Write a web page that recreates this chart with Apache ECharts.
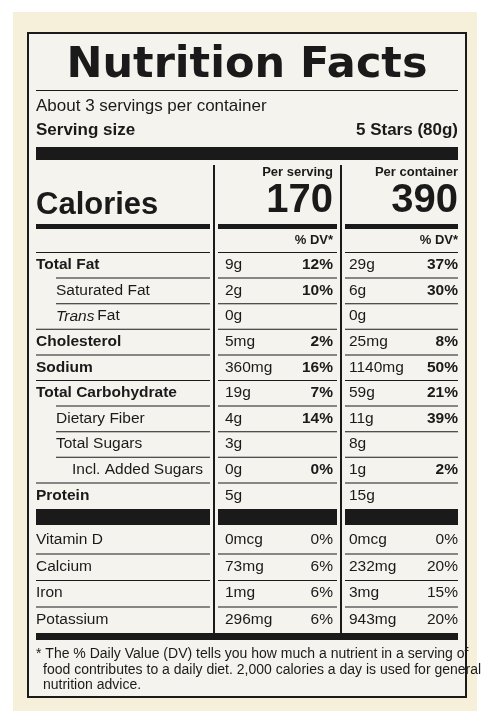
<!DOCTYPE html>
<html><head><meta charset="utf-8">
<script src="https://cdn.jsdelivr.net/npm/echarts@6/dist/echarts.min.js"></script>
<style>html,body{margin:0;padding:0;background:#ffffff}#c{width:490px;height:725px}</style>
</head><body><div id="c"></div>
<script>
const nutrients = ["Total Fat","Saturated Fat","Trans Fat","Cholesterol","Sodium","Total Carbohydrate","Dietary Fiber","Total Sugars","Incl. Added Sugars","Protein"];
const nutrientBold = [1,0,0,1,1,1,0,0,0,1];
const nutrientIndent = [0,1,1,0,0,0,1,1,2,0];
const servingAmt = ["9g","2g","0g","5mg","360mg","19g","4g","3g","0g","5g"];
const servingDV = ["12%","10%","","2%","16%","7%","14%","","0%",""];
const containerAmt = ["29g","6g","0g","25mg","1140mg","59g","11g","8g","1g","15g"];
const containerDV = ["37%","30%","","8%","50%","21%","39%","","2%",""];
const vitamins = ["Vitamin D","Calcium","Iron","Potassium"];
const vitServingAmt = ["0mcg","73mg","1mg","296mg"];
const vitServingDV = ["0%","6%","6%","6%"];
const vitContainerAmt = ["0mcg","232mg","3mg","943mg"];
const vitContainerDV = ["0%","20%","15%","20%"];
const caloriesServing = "170";
const caloriesContainer = "390";

const F = "'Liberation Sans', Arial, sans-serif";
const FN = "'Liberation Sans Narrow', 'Liberation Sans', sans-serif";
const g = [];
const txt = (x,y,s,size,weight,align,style,fam) => g.push({type:'text',x,y,style:{text:s,fontSize:size,fontWeight:weight||'normal',fontStyle:style||'normal',fontFamily:fam||F,fill:'#1a1a1a',textAlign:align||'left',textVerticalAlign:'middle'}});
const rect = (x,y,w,h,fill) => g.push({type:'rect',shape:{x,y,width:w,height:h},style:{fill:fill||'#1a1a1a'}});
const hl = (x1,x2,y,w) => rect(x1,y,x2-x1,w||1);

rect(13,12,464,699,'#f6f0da');
rect(27,32,440,666,'#1a1a1a');
rect(29,34,436,662,'#f4f3ee');
txt(247,66,"Nutrition Facts",43,'bold','center',null,"'DejaVu Sans', sans-serif");
hl(36,458,90,1);
txt(36,106,"About 3 servings per container",17);
txt(36,130,"Serving size",17,'bold');
txt(458,130,"5 Stars (80g)",17,'bold','right');
rect(36,147,422,13);
const c1=[36,210],c2=[218,337],c3=[345,458];
rect(213,165,2,470); rect(340,165,2,470);
txt(333,172,"Per serving",13,'bold','right');
txt(458,172,"Per container",13,'bold','right');
txt(333,201,caloriesServing,40,'bold','right');
txt(458,201,caloriesContainer,40,'bold','right');
txt(36,205,"Calories",31,'bold');
[c1,c2,c3].forEach(c=>hl(c[0],c[1],224,5));
txt(333,240,"% DV*",13,'bold','right');
txt(458,240,"% DV*",13,'bold','right');
const rowH=25.6;
nutrients.forEach((n,i)=>{
  const y=265+i*rowH, ind=[36,56,72][nutrientIndent[i]];
  hl(ind===72?56:ind,210,y-13,1); hl(c2[0],c2[1],y-13,1); hl(c3[0],c3[1],y-13,1);
  const b=nutrientBold[i]?'bold':'normal';
  if(n==="Trans Fat"){txt(ind,y,"Trans",15.5,'normal','left','italic');txt(ind+37,y," Fat",15.5);}
  else txt(ind,y,n,15.5,b);
  txt(225,y,servingAmt[i],15.5); txt(333,y,servingDV[i],15.5,'bold','right');
  txt(349,y,containerAmt[i],15.5); txt(458,y,containerDV[i],15.5,'bold','right');
});
[c1,c2,c3].forEach(c=>rect(c[0],509,c[1]-c[0],16));
vitamins.forEach((n,i)=>{
  const y=540+i*26.5;
  if(i>0){hl(36,210,y-13,1);hl(c2[0],c2[1],y-13,1);hl(c3[0],c3[1],y-13,1);}
  txt(36,y,n,15.5);
  txt(225,y,vitServingAmt[i],15.5); txt(333,y,vitServingDV[i],15.5,'normal','right');
  txt(349,y,vitContainerAmt[i],15.5); txt(458,y,vitContainerDV[i],15.5,'normal','right');
});
rect(36,633,422,7);
txt(36,654,"* The % Daily Value (DV) tells you how much a nutrient in a serving of",14,'normal','left',null,FN);
txt(43,670,"food contributes to a daily diet. 2,000 calories a day is used for general",14,'normal','left',null,FN);
txt(43,685,"nutrition advice.",14,'normal','left',null,FN);

const chart=echarts.init(document.getElementById('c'));
chart.setOption({backgroundColor:'#ffffff',graphic:g});
</script></body></html>
